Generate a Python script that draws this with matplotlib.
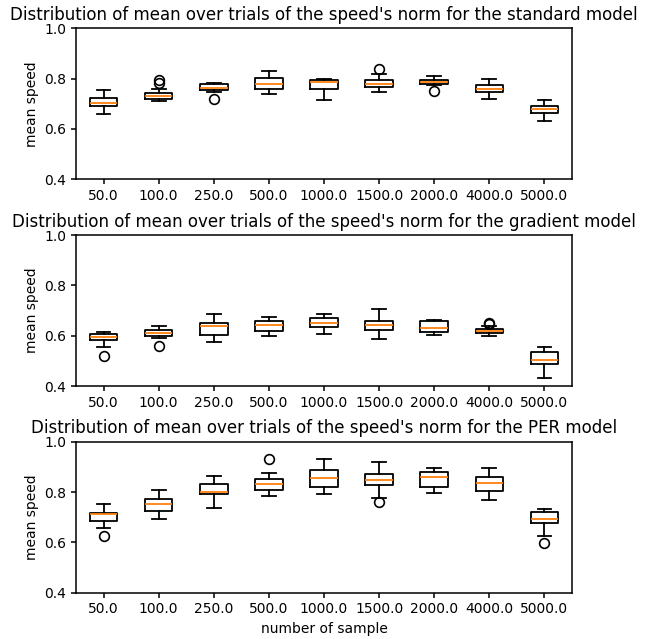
import matplotlib
matplotlib.use("Agg")
import matplotlib.pyplot as plt

sample_sizes = [50.0, 100.0, 250.0, 500.0, 1000.0, 1500.0, 2000.0, 4000.0, 5000.0]
model_names = ["standard", "gradient", "PER"]

# Box statistics per model: lower whisker, Q1, median, Q3, upper whisker, outliers
standard_whislo = [0.658, 0.710, 0.746, 0.739, 0.715, 0.747, 0.774, 0.720, 0.632]
standard_q1 = [0.691, 0.720, 0.755, 0.759, 0.759, 0.766, 0.777, 0.747, 0.664]
standard_med = [0.705, 0.732, 0.762, 0.777, 0.787, 0.779, 0.788, 0.760, 0.681]
standard_q3 = [0.722, 0.742, 0.779, 0.801, 0.795, 0.793, 0.796, 0.774, 0.690]
standard_whishi = [0.754, 0.759, 0.783, 0.829, 0.800, 0.819, 0.811, 0.799, 0.714]
standard_fliers = [[], [0.784, 0.795], [0.718], [], [], [0.838], [0.750], [], []]

gradient_whislo = [0.556, 0.592, 0.576, 0.597, 0.605, 0.585, 0.604, 0.598, 0.432]
gradient_q1 = [0.584, 0.597, 0.604, 0.618, 0.634, 0.622, 0.616, 0.612, 0.488]
gradient_med = [0.594, 0.612, 0.639, 0.642, 0.651, 0.642, 0.629, 0.619, 0.502]
gradient_q3 = [0.605, 0.621, 0.649, 0.658, 0.669, 0.658, 0.657, 0.626, 0.536]
gradient_whishi = [0.614, 0.638, 0.685, 0.674, 0.686, 0.705, 0.663, 0.638, 0.554]
gradient_fliers = [[0.518], [0.558], [], [], [], [], [], [0.645, 0.651], []]

per_whislo = [0.656, 0.693, 0.738, 0.785, 0.793, 0.777, 0.797, 0.770, 0.627]
per_q1 = [0.683, 0.725, 0.793, 0.808, 0.818, 0.827, 0.819, 0.805, 0.677]
per_med = [0.711, 0.754, 0.801, 0.833, 0.854, 0.846, 0.858, 0.837, 0.692]
per_q3 = [0.717, 0.774, 0.830, 0.850, 0.888, 0.870, 0.879, 0.858, 0.719]
per_whishi = [0.753, 0.806, 0.865, 0.874, 0.930, 0.920, 0.894, 0.896, 0.733]
per_fliers = [[0.624], [], [], [0.932], [], [0.761], [], [], [0.598]]

tables = [
    (standard_whislo, standard_q1, standard_med, standard_q3, standard_whishi, standard_fliers),
    (gradient_whislo, gradient_q1, gradient_med, gradient_q3, gradient_whishi, gradient_fliers),
    (per_whislo, per_q1, per_med, per_q3, per_whishi, per_fliers),
]

fig = plt.figure(figsize=(6.48, 6.39), dpi=100)
bottoms = [0.7194, 0.3959, 0.0725]
left, width, height = 0.1173, 0.7654, 0.2363

lw = 1.3
for i, (name, tbl) in enumerate(zip(model_names, tables)):
    ax = fig.add_axes([left, bottoms[i], width, height])
    lo, q1, med, q3, hi, fl = tbl
    stats = []
    for j, s in enumerate(sample_sizes):
        stats.append(dict(whislo=lo[j], q1=q1[j], med=med[j], q3=q3[j],
                          whishi=hi[j], fliers=fl[j], label=str(s)))
    ax.bxp(stats, showfliers=True,
           boxprops=dict(linewidth=lw),
           whiskerprops=dict(linewidth=lw),
           capprops=dict(linewidth=lw),
           medianprops=dict(linewidth=lw, color="C1"),
           flierprops=dict(markersize=7, markeredgewidth=1.2))
    for sp in ax.spines.values():
        sp.set_linewidth(1.1)
    ax.tick_params(width=1.1)
    ax.set_ylim(0.4, 1.0)
    ax.set_yticks([0.4, 0.6, 0.8, 1.0])
    ax.set_ylabel("mean speed")
    ax.set_title("Distribution of mean over trials of the speed's norm for the %s model" % name)
    if i == 2:
        ax.set_xlabel("number of sample")

fig.savefig("out.png", dpi=100)
